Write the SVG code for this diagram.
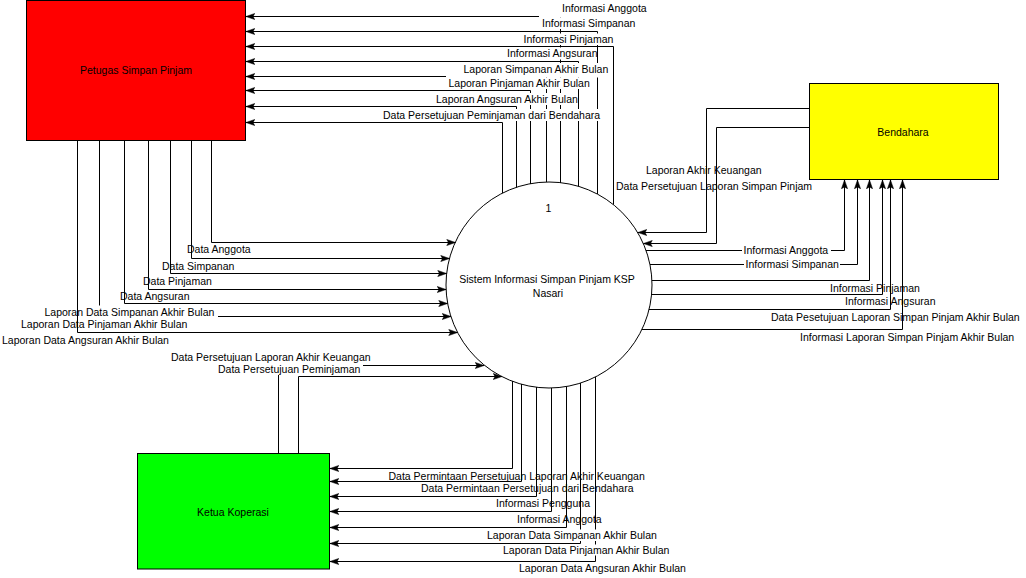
<svg xmlns="http://www.w3.org/2000/svg" width="1026" height="578" viewBox="0 0 1026 578">
<style>
.box{stroke:#000;stroke-width:1}
.flow{fill:none;stroke:#000;stroke-width:1;marker-end:url(#ah)}
.t{font-family:"Liberation Sans",Arial,sans-serif;font-size:10.5px;fill:#000}
.c{text-anchor:middle}
.lb{fill:#fff}
</style>
<defs>
<marker id="ah" viewBox="0 0 10 8" refX="10" refY="4" markerWidth="10" markerHeight="7" markerUnits="userSpaceOnUse" orient="auto">
<path d="M0,0.5 L10,4 L0,7.5 L2,4 Z" fill="#000" stroke="#000" stroke-width="0.6"/>
</marker>
</defs>
<rect width="1026" height="578" fill="#fff"/>

<g id="node-petugas">
<rect class="box" x="26.5" y="0.5" width="219" height="140" fill="#ff0000"/>
<text class="t c" x="136" y="74">Petugas Simpan Pinjam</text>
</g>
<g id="node-bendahara">
<rect class="box" x="809.5" y="83.5" width="189" height="96" fill="#ffff00"/>
<text class="t c" x="903" y="135.5">Bendahara</text>
</g>
<g id="node-ketua">
<rect class="box" x="137.5" y="453.5" width="192" height="115.5" fill="#00ff00"/>
<text class="t c" x="233" y="515.5">Ketua Koperasi</text>
</g>
<g id="node-sistem">
<circle class="box" cx="549" cy="285" r="103" fill="#fff"/>
<text class="t c" x="548.5" y="211.5">1</text>
<text class="t c" x="547" y="283">Sistem Informasi Simpan Pinjam KSP</text>
<text class="t c" x="548" y="296.5">Nasari</text>
</g>

<g id="connectors">
<!-- sistem -> petugas -->
<path class="flow" d="M560.5,183 V16.5 H246"/>
<path class="flow" d="M597.5,194 V31.5 H246"/>
<path class="flow" d="M613.5,204.5 V46.5 H246"/>
<path class="flow" d="M578.5,186.5 V61.5 H246"/>
<path class="flow" d="M546.5,182 V76.5 H246"/>
<path class="flow" d="M530.5,184 V90.5 H246"/>
<path class="flow" d="M516.5,187.5 V106.5 H246"/>
<path class="flow" d="M502.5,193 V122.5 H246"/>
<rect class="lb" x="539" y="1" width="111" height="16.5"/>
<rect class="lb" x="541" y="17.5" width="95" height="11.5"/>
<rect class="lb" x="522.5" y="33.5" width="93" height="11.5"/>
<rect class="lb" x="506" y="47.5" width="90.5" height="12"/>
<rect class="lb" x="446" y="63" width="166" height="14.5"/>
<rect class="lb" x="447.5" y="77.5" width="146" height="11.5"/>
<rect class="lb" x="435" y="93" width="142.5" height="12"/>
<rect class="lb" x="382" y="109" width="221" height="12"/>
<text class="t" x="562" y="12">Informasi Anggota</text>
<text class="t" x="542" y="27">Informasi Simpanan</text>
<text class="t" x="523.5" y="43">Informasi Pinjaman</text>
<text class="t" x="507" y="57">Informasi Angsuran</text>
<text class="t" x="463.5" y="73">Laporan Simpanan Akhir Bulan</text>
<text class="t" x="448.5" y="86.5">Laporan Pinjaman Akhir Bulan</text>
<text class="t" x="436" y="103">Laporan Angsuran Akhir Bulan</text>
<text class="t" x="383" y="119">Data Persetujuan Peminjaman dari Bendahara</text>

<!-- petugas -> sistem -->
<path class="flow" d="M211.5,140.5 V242.5 H455.5"/>
<path class="flow" d="M191.5,140.5 V258.5 H449.5"/>
<path class="flow" d="M170.5,140.5 V273.5 H446.5"/>
<path class="flow" d="M148.5,140.5 V289.5 H446"/>
<path class="flow" d="M124.5,140.5 V303.5 H447.5"/>
<path class="flow" d="M99.5,140.5 V316.5 H451"/>
<rect class="lb" x="43" y="305.5" width="175" height="12.5"/>
<path class="flow" d="M77.5,140.5 V332.5 H457.5"/>
<text class="t" x="187" y="253.3">Data Anggota</text>
<text class="t" x="162" y="269.7">Data Simpanan</text>
<text class="t" x="143" y="284.7">Data Pinjaman</text>
<text class="t" x="120" y="300.3">Data Angsuran</text>
<text class="t" x="44.5" y="315.7">Laporan Data Simpanan Akhir Bulan</text>
<text class="t" x="21" y="328">Laporan Data Pinjaman Akhir Bulan</text>
<text class="t" x="2" y="344">Laporan Data Angsuran Akhir Bulan</text>

<!-- bendahara -> sistem -->
<path class="flow" d="M809,108.5 H706.5 V232.5 H638"/>
<path class="flow" d="M809,127.5 H716.5 V243.5 H643.5"/>
<text class="t" x="646" y="174">Laporan Akhir Keuangan</text>
<text class="t" x="616" y="189.5">Data Persetujuan Laporan Simpan Pinjam</text>

<!-- sistem -> bendahara -->
<path class="flow" d="M646,250.5 H844.5 V180"/>
<path class="flow" d="M650,264.5 H857.5 V180"/>
<path class="flow" d="M652,280.5 H869.5 V180"/>
<path class="flow" d="M651.5,294.5 H882.5 V180"/>
<path class="flow" d="M649,309.5 H890.5 V180"/>
<path class="flow" d="M642,329.5 H902.5 V180"/>
<rect class="lb" x="742" y="244.5" width="89" height="11.5"/>
<rect class="lb" x="744" y="258.5" width="96" height="11.5"/>
<text class="t" x="743.5" y="254">Informasi Anggota</text>
<text class="t" x="745.5" y="268.3">Informasi Simpanan</text>
<text class="t" x="830" y="292.3">Informasi Pinjaman</text>
<text class="t" x="845" y="305">Informasi Angsuran</text>
<text class="t" x="771" y="320.7">Data Pesetujuan Laporan Simpan Pinjam Akhir Bulan</text>
<text class="t" x="800" y="341.3">Informasi Laporan Simpan Pinjam Akhir Bulan</text>

<!-- ketua -> sistem -->
<path class="flow" d="M278.5,453.5 V365.5 H484"/>
<path class="flow" d="M298.5,453.5 V376.5 H502"/>
<rect class="lb" x="217" y="363" width="146" height="12"/>
<text class="t" x="171" y="360.7">Data Persetujuan Laporan Akhir Keuangan</text>
<text class="t" x="218" y="373">Data Persetujuan Peminjaman</text>

<!-- sistem -> ketua -->
<path class="flow" d="M512.5,381 V468.5 H330"/>
<path class="flow" d="M521.5,384 V481.5 H330"/>
<path class="flow" d="M536.5,387 V496.5 H330"/>
<path class="flow" d="M551.5,388 V511.5 H330"/>
<path class="flow" d="M566.5,386.5 V527.5 H330"/>
<path class="flow" d="M580.5,383 V543.5 H330"/>
<path class="flow" d="M595.5,377 V561.5 H330"/>
<rect class="lb" x="486" y="529.5" width="173" height="11.5"/>
<rect class="lb" x="502" y="544.5" width="170.5" height="11"/>
<rect class="lb" x="518" y="562.5" width="168.5" height="11"/>
<text class="t" x="388.5" y="479.7">Data Permintaan Persetujuan Laporan Akhir Keuangan</text>
<text class="t" x="421" y="491.7">Data Permintaan Persetujuan dari Bendahara</text>
<text class="t" x="496" y="506.7">Informasi Pengguna</text>
<text class="t" x="517" y="523">Informasi Anggota</text>
<text class="t" x="487" y="539">Laporan Data Simpanan Akhir Bulan</text>
<text class="t" x="503" y="554">Laporan Data Pinjaman Akhir Bulan</text>
<text class="t" x="519" y="572.3">Laporan Data Angsuran Akhir Bulan</text>
</g>
</svg>
